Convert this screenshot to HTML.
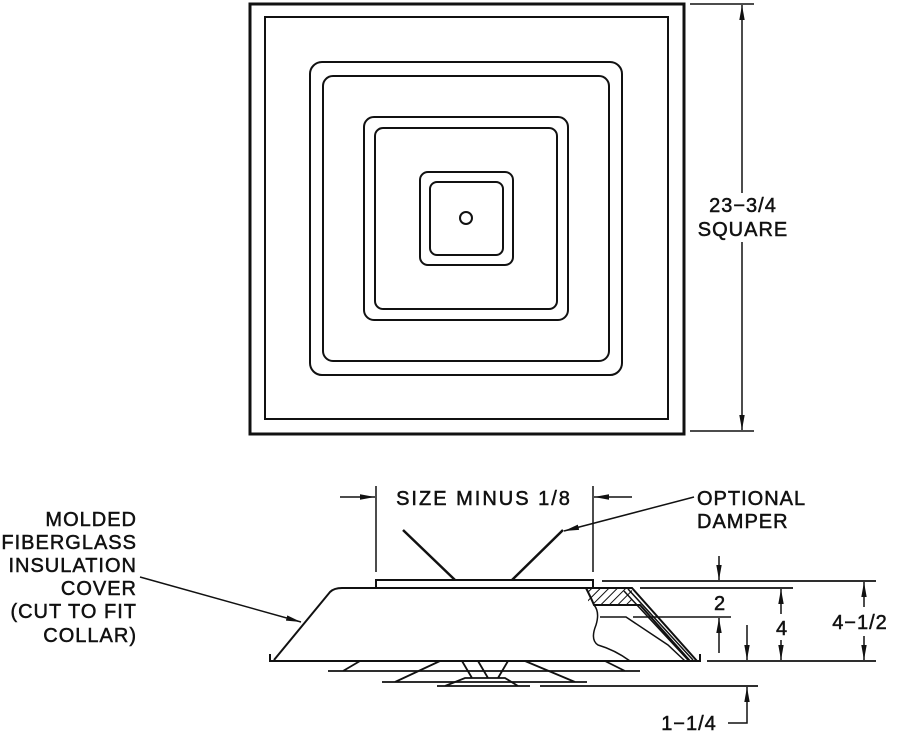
<!DOCTYPE html>
<html><head><style>
body{margin:0;background:#fff}
svg{display:block}
text{font-family:"Liberation Sans",sans-serif;font-size:20px;fill:#111;stroke:#111;stroke-width:0.5;letter-spacing:1px}
</style></head><body>
<svg width="900" height="734" viewBox="0 0 900 734" xmlns="http://www.w3.org/2000/svg">
<defs>
<marker id="a" viewBox="0 0 10 10" preserveAspectRatio="none" refX="10" refY="5" markerWidth="15" markerHeight="6" markerUnits="userSpaceOnUse" orient="auto"><path d="M0,0.5 L10,5 L0,9.5 z" fill="#111"/></marker>
<pattern id="h" width="6" height="6" patternUnits="userSpaceOnUse" patternTransform="rotate(45)"><line x1="0" y1="0" x2="0" y2="6" stroke="#111" stroke-width="2"/></pattern>
</defs>
<g fill="none" stroke="#111" stroke-width="2">
<rect x="250" y="4" width="434" height="430" stroke-width="3"/>
<rect x="265" y="17" width="403" height="402"/>
<rect x="310" y="62" width="312" height="313" rx="12"/>
<rect x="323" y="76" width="286" height="285" rx="10"/>
<rect x="364" y="117" width="204" height="203" rx="10"/>
<rect x="375" y="128" width="182" height="181" rx="8"/>
<rect x="420" y="172" width="93" height="93" rx="8"/>
<rect x="430" y="182" width="73" height="73" rx="7"/>
<circle cx="466" cy="218" r="6"/>
<line x1="690" y1="4" x2="754" y2="4" stroke-width="1.5"/>
<line x1="690" y1="431" x2="754" y2="431" stroke-width="1.5"/>
<line x1="742" y1="193" x2="742" y2="5" marker-end="url(#a)" stroke-width="1.5"/>
<line x1="742" y1="242" x2="742" y2="430" marker-end="url(#a)" stroke-width="1.5"/>
<line x1="376" y1="486" x2="376" y2="572" stroke-width="1.5"/>
<line x1="593" y1="486" x2="593" y2="572" stroke-width="1.5"/>
<line x1="340" y1="497" x2="375" y2="497" marker-end="url(#a)" stroke-width="1.5"/>
<line x1="632" y1="497" x2="594" y2="497" marker-end="url(#a)" stroke-width="1.5"/>
<line x1="403" y1="530" x2="455" y2="580" stroke-width="2.5"/>
<line x1="563" y1="530" x2="512" y2="580" stroke-width="2.5"/>
<line x1="694" y1="497" x2="564" y2="531" marker-end="url(#a)" stroke-width="1.5"/>
<rect x="376" y="580" width="217" height="8"/>
<path d="M270,654 L270,661 L700,661 L700,654"/>
<path d="M274,660 L330,592 Q334,588 342,588 L593,588"/>
<path d="M586,588 L632,588 L697,661"/>
<path d="M586,588 Q592,600 594,605 L640,605 L690,661"/>
<rect x="588" y="589" width="44" height="15" fill="url(#h)" stroke="none"/>
<path d="M628,589 L693,660 M624,591 L688,660" stroke-width="1.5"/>
<path d="M594,605 Q600,612 596,625 Q590,640 598,645 Q615,650 630,661" stroke-width="1.5"/>
<path d="M600,617 L626,617 L668,645 L685,661" stroke-width="1.5"/>
<path d="M328,671 L640,671 M360,661 L343,671 M605,661 L625,671" stroke-width="1.8"/>
<path d="M382,682 L587,682 M440,661 L395,682 M525,661 L575,682" stroke-width="1.8"/>
<path d="M437,686 L530,686 M540,686 L758,686 M445,686 L465,678 L505,678 L518,686 M462,661 L472,678 M508,661 L498,678 M478,661 L488,678" stroke-width="1.8"/>
<line x1="602" y1="581" x2="876" y2="581" stroke-width="1.8"/>
<line x1="640" y1="588" x2="793" y2="588" stroke-width="1.8"/>
<line x1="633" y1="617" x2="731" y2="617" stroke-width="1.5"/>
<line x1="707" y1="661" x2="876" y2="661" stroke-width="1.8"/>
<line x1="719" y1="556" x2="719" y2="580" marker-end="url(#a)" stroke-width="1.5"/>
<line x1="719" y1="653" x2="719" y2="618" marker-end="url(#a)" stroke-width="1.5"/>
<line x1="747" y1="625" x2="747" y2="660" marker-end="url(#a)" stroke-width="1.5"/>
<line x1="781" y1="614" x2="781" y2="589" marker-end="url(#a)" stroke-width="1.5"/>
<line x1="781" y1="640" x2="781" y2="660" marker-end="url(#a)" stroke-width="1.5"/>
<line x1="864" y1="607" x2="864" y2="582" marker-end="url(#a)" stroke-width="1.5"/>
<line x1="864" y1="636" x2="864" y2="660" marker-end="url(#a)" stroke-width="1.5"/>
<path d="M728,723 L747,723 L747,687" marker-end="url(#a)" stroke-width="1.5"/>
<line x1="140" y1="577" x2="301" y2="622" marker-end="url(#a)" stroke-width="1.5"/>
</g>
<text x="743" y="212" text-anchor="middle">23−3/4</text>
<text x="743" y="236" text-anchor="middle">SQUARE</text>
<text x="484" y="505" text-anchor="middle" style="letter-spacing:2px">SIZE MINUS 1/8</text>
<text x="697" y="505">OPTIONAL</text>
<text x="697" y="528">DAMPER</text>
<text x="720" y="610" text-anchor="middle">2</text>
<text x="782" y="635" text-anchor="middle">4</text>
<text x="860" y="629" text-anchor="middle">4−1/2</text>
<text x="689" y="730" text-anchor="middle">1−1/4</text>
<g text-anchor="end">
<text x="137" y="526">MOLDED</text>
<text x="137" y="549">FIBERGLASS</text>
<text x="137" y="572">INSULATION</text>
<text x="137" y="595">COVER</text>
<text x="137" y="618">(CUT TO FIT</text>
<text x="137" y="642">COLLAR)</text>
</g>
</svg>
</body></html>
